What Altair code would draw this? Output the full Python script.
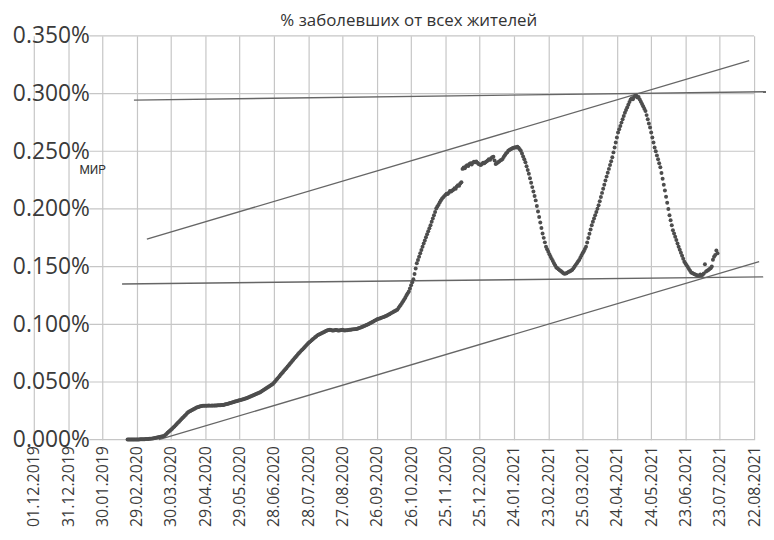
import altair as alt
import pandas as pd

# ---------------- data ----------------
title_text = "% заболевших от всех жителей"
annotation_text = "МИР"

# x tick labels (one every 30 days starting 01.12.2019), as printed
x_tick_labels = [
    "01.12.2019", "31.12.2019", "30.01.2019", "29.02.2020", "30.03.2020",
    "29.04.2020", "29.05.2020", "28.06.2020", "28.07.2020", "27.08.2020",
    "26.09.2020", "26.10.2020", "25.11.2020", "25.12.2020", "24.01.2021",
    "23.02.2021", "25.03.2021", "24.04.2021", "24.05.2021", "23.06.2021",
    "23.07.2021", "22.08.2021",
]
x_tick_days = [30 * i for i in range(len(x_tick_labels))]
y_tick_values = [0.0, 0.05, 0.10, 0.15, 0.20, 0.25, 0.30, 0.35]

# daily % of population infected, day 82 (after 01.12.2019) onwards
first_day = 82
pct_values = [
    # 82
    0.0002, 0.0002, 0.0002, 0.0002, 0.0002, 0.0002, 0.0002, 0.0002, 0.0002, 0.0002,
    # 92
    0.0002, 0.0003, 0.0003, 0.0003, 0.0004, 0.0004, 0.0005, 0.0005, 0.0006, 0.0007,
    # 102
    0.0008, 0.0009, 0.0011, 0.0013, 0.0015, 0.0017, 0.0019, 0.0021, 0.0023, 0.0025,
    # 112
    0.0027, 0.0030, 0.0032, 0.0041, 0.0050, 0.0059, 0.0068, 0.0077, 0.0086, 0.0095,
    # 122
    0.0105, 0.0115, 0.0125, 0.0135, 0.0146, 0.0156, 0.0166, 0.0176, 0.0187, 0.0197,
    # 132
    0.0207, 0.0217, 0.0228, 0.0238, 0.0244, 0.0249, 0.0254, 0.0260, 0.0265, 0.0270,
    # 142
    0.0276, 0.0281, 0.0284, 0.0287, 0.0290, 0.0292, 0.0295, 0.0294, 0.0295, 0.0294,
    # 152
    0.0295, 0.0296, 0.0295, 0.0295, 0.0296, 0.0295, 0.0296, 0.0297, 0.0297, 0.0298,
    # 162
    0.0298, 0.0299, 0.0300, 0.0300, 0.0301, 0.0304, 0.0307, 0.0310, 0.0312, 0.0315,
    # 172
    0.0318, 0.0321, 0.0324, 0.0327, 0.0330, 0.0333, 0.0336, 0.0339, 0.0341, 0.0344,
    # 182
    0.0347, 0.0350, 0.0353, 0.0356, 0.0359, 0.0363, 0.0368, 0.0372, 0.0376, 0.0381,
    # 192
    0.0385, 0.0389, 0.0394, 0.0398, 0.0402, 0.0407, 0.0411, 0.0417, 0.0424, 0.0430,
    # 202
    0.0437, 0.0443, 0.0450, 0.0456, 0.0463, 0.0469, 0.0476, 0.0482, 0.0494, 0.0505,
    # 212
    0.0517, 0.0528, 0.0540, 0.0552, 0.0564, 0.0575, 0.0587, 0.0599, 0.0611, 0.0622,
    # 222
    0.0634, 0.0646, 0.0658, 0.0669, 0.0681, 0.0693, 0.0705, 0.0717, 0.0728, 0.0740,
    # 232
    0.0751, 0.0761, 0.0772, 0.0782, 0.0793, 0.0804, 0.0814, 0.0825, 0.0835, 0.0844,
    # 242
    0.0852, 0.0861, 0.0870, 0.0878, 0.0887, 0.0895, 0.0904, 0.0909, 0.0914, 0.0919,
    # 252
    0.0924, 0.0929, 0.0934, 0.0939, 0.0944, 0.0949, 0.0951, 0.0953, 0.0950, 0.0947,
    # 262
    0.0946, 0.0948, 0.0951, 0.0950, 0.0947, 0.0946, 0.0948, 0.0950, 0.0952, 0.0949,
    # 272
    0.0947, 0.0948, 0.0949, 0.0951, 0.0952, 0.0953, 0.0955, 0.0956, 0.0957, 0.0958,
    # 282
    0.0960, 0.0961, 0.0965, 0.0969, 0.0973, 0.0977, 0.0981, 0.0986, 0.0990, 0.0994,
    # 292
    0.0998, 0.1003, 0.1009, 0.1014, 0.1020, 0.1025, 0.1030, 0.1036, 0.1041, 0.1045,
    # 302
    0.1049, 0.1053, 0.1057, 0.1060, 0.1064, 0.1068, 0.1072, 0.1076, 0.1082, 0.1087,
    # 312
    0.1093, 0.1099, 0.1104, 0.1110, 0.1116, 0.1121, 0.1127, 0.1141, 0.1156, 0.1170,
    # 322
    0.1185, 0.1199, 0.1216, 0.1233, 0.1251, 0.1268, 0.1285, 0.1311, 0.1338, 0.1364,
    # 332
    0.1390, 0.1436, 0.1483, 0.1529, 0.1558, 0.1586, 0.1615, 0.1644, 0.1672, 0.1701,
    # 342
    0.1727, 0.1754, 0.1780, 0.1806, 0.1833, 0.1859, 0.1888, 0.1917, 0.1946, 0.1974,
    # 352
    0.2003, 0.2020, 0.2037, 0.2055, 0.2072, 0.2089, 0.2100, 0.2111, 0.2121, 0.2132,
    # 362
    0.2130, 0.2140, 0.2155, 0.2150, 0.2160, 0.2166, 0.2180, 0.2175, 0.2195, 0.2205,
    # 372
    0.2200, 0.2220, 0.2232, 0.2347, 0.2360, 0.2352, 0.2370, 0.2378, 0.2372, 0.2390,
    # 382
    0.2395, 0.2385, 0.2400, 0.2410, 0.2405, 0.2412, 0.2400, 0.2390, 0.2385, 0.2381,
    # 392
    0.2390, 0.2400, 0.2395, 0.2405, 0.2412, 0.2420, 0.2430, 0.2425, 0.2440, 0.2448,
    # 402
    0.2453, 0.2420, 0.2390, 0.2395, 0.2405, 0.2410, 0.2420, 0.2425, 0.2433, 0.2450,
    # 412
    0.2465, 0.2480, 0.2490, 0.2504, 0.2510, 0.2518, 0.2522, 0.2528, 0.2530, 0.2535,
    # 422
    0.2532, 0.2539, 0.2530, 0.2518, 0.2504, 0.2480, 0.2455, 0.2430, 0.2404, 0.2370,
    # 432
    0.2337, 0.2304, 0.2266, 0.2227, 0.2189, 0.2151, 0.2112, 0.2074, 0.2026, 0.1978,
    # 442
    0.1930, 0.1882, 0.1835, 0.1787, 0.1749, 0.1710, 0.1672, 0.1650, 0.1629, 0.1607,
    # 452
    0.1586, 0.1567, 0.1549, 0.1530, 0.1512, 0.1493, 0.1485, 0.1477, 0.1469, 0.1461,
    # 462
    0.1453, 0.1445, 0.1437, 0.1440, 0.1442, 0.1450, 0.1455, 0.1460, 0.1466, 0.1472,
    # 472
    0.1486, 0.1501, 0.1515, 0.1529, 0.1544, 0.1558, 0.1577, 0.1596, 0.1615, 0.1634,
    # 482
    0.1653, 0.1672, 0.1709, 0.1747, 0.1784, 0.1822, 0.1859, 0.1888, 0.1916, 0.1945,
    # 492
    0.1974, 0.2002, 0.2031, 0.2067, 0.2103, 0.2139, 0.2174, 0.2210, 0.2246, 0.2280,
    # 502
    0.2313, 0.2347, 0.2380, 0.2414, 0.2447, 0.2490, 0.2533, 0.2576, 0.2619, 0.2662,
    # 512
    0.2691, 0.2719, 0.2748, 0.2777, 0.2805, 0.2834, 0.2857, 0.2880, 0.2903, 0.2926,
    # 522
    0.2949, 0.2960, 0.2950, 0.2970, 0.2978, 0.2980, 0.2965, 0.2970, 0.2949, 0.2929,
    # 532
    0.2909, 0.2889, 0.2869, 0.2849, 0.2813, 0.2777, 0.2741, 0.2705, 0.2662, 0.2619,
    # 542
    0.2576, 0.2533, 0.2499, 0.2464, 0.2430, 0.2395, 0.2361, 0.2311, 0.2261, 0.2210,
    # 552
    0.2160, 0.2106, 0.2053, 0.1999, 0.1945, 0.1902, 0.1859, 0.1816, 0.1787, 0.1758,
    # 562
    0.1730, 0.1701, 0.1672, 0.1646, 0.1620, 0.1595, 0.1569, 0.1543, 0.1527, 0.1512,
    # 572
    0.1496, 0.1480, 0.1465, 0.1449, 0.1444, 0.1439, 0.1434, 0.1430, 0.1425, 0.1420,
    # 582
    0.1423, 0.1432, 0.1426, 0.1429, 0.1440, 0.1520, 0.1457, 0.1465, 0.1470, 0.1480,
    # 592
    0.1486, 0.1500, 0.1560, 0.1586, 0.1600, 0.1640, 0.1615,
]

# hand-drawn trend lines: (start day, start %, end day, end %)
trend_start_day = [87.6, 98.9, 77.2, 109.4]
trend_start_pct = [0.2943, 0.1738, 0.1349, 0.0]
trend_end_day = [642.0, 625.7, 637.9, 634.4]
trend_end_pct = [0.3016, 0.3285, 0.1411, 0.1543]

# annotation position (data space)
annotation_day = [51.5]
annotation_pct = [0.2335]

# horizontal grid lines start right of the y labels
hgrid_start_day = 48.6
x_max_day = 630

# ---------------- build tables ----------------
series_df = pd.DataFrame({
    "day": list(range(first_day, first_day + len(pct_values))),
    "pct": pct_values,
})

trend_rows = []
for i in range(len(trend_start_day)):
    trend_rows.append({"line": i, "day": trend_start_day[i], "pct": trend_start_pct[i]})
    trend_rows.append({"line": i, "day": trend_end_day[i], "pct": trend_end_pct[i]})
trend_df = pd.DataFrame(trend_rows)

hgrid_df = pd.DataFrame({
    "pct": y_tick_values,
    "day": [hgrid_start_day] * len(y_tick_values),
    "day2": [x_max_day] * len(y_tick_values),
})

annot_df = pd.DataFrame({"day": annotation_day, "pct": annotation_pct, "label": [annotation_text]})

# ---------------- scales & axes ----------------
label_expr = "[" + ",".join("'" + s + "'" for s in x_tick_labels) + "][round(datum.value/30)]"

xscale = alt.Scale(domain=[0, x_max_day], nice=False, zero=False)
yscale = alt.Scale(domain=[0, 0.35], nice=False, zero=False)

xaxis = alt.Axis(
    values=x_tick_days, labelExpr=label_expr, title=None,
    grid=True, gridColor="#c6c6c6", gridWidth=1.2,
    ticks=False, domain=False,
    labelAngle=270, labelAlign="right", labelBaseline="middle",
    labelPadding=6, labelFontSize=16, labelFont="Open Sans", labelColor="#3a3a3a",
    labelOverlap=False, labelFlush=False, labelBound=False,
)
yaxis = alt.Axis(
    values=y_tick_values, labelExpr="format(datum.value, '.3f') + '%'", title=None,
    grid=False, ticks=False, domain=False,
    labelAlign="right", labelBaseline="middle", labelPadding=-56,
    labelFontSize=23, labelFont="Open Sans", labelColor="#3a3a3a",
    labelOverlap=False, labelFlush=False, labelBound=False,
)

X = alt.X("day:Q", scale=xscale, axis=xaxis)
Y = alt.Y("pct:Q", scale=yscale, axis=yaxis)

hgrid = alt.Chart(hgrid_df).mark_rule(color="#c6c6c6", strokeWidth=1.2).encode(
    x=X, x2="day2:Q", y=Y
)

trend = alt.Chart(trend_df).mark_line(color="#666666", strokeWidth=1.4).encode(
    x=X, y=Y, detail="line:N"
)

points = alt.Chart(series_df).mark_circle(size=16, color="#4d4d4d", opacity=1).encode(
    x=X, y=Y
)

annot = alt.Chart(annot_df).mark_text(
    font="Roboto", fontSize=12, color="#333333", align="center", baseline="middle"
).encode(x=X, y=Y, text="label:N")

chart = alt.layer(hgrid, trend, points, annot).properties(
    width=726,
    height=407,
    padding={"left": 26, "top": 26, "right": 12, "bottom": 92},
    autosize=alt.AutoSizeParams(type="none"),
    title=alt.TitleParams(
        title_text, fontSize=17, font="Open Sans", fontWeight="normal",
        color="#333333", anchor="middle", dx=15, offset=-5,
    ),
    background="white",
).configure_view(stroke=None)

chart.save("out.html", embed_options={"renderer": "svg", "actions": False})
